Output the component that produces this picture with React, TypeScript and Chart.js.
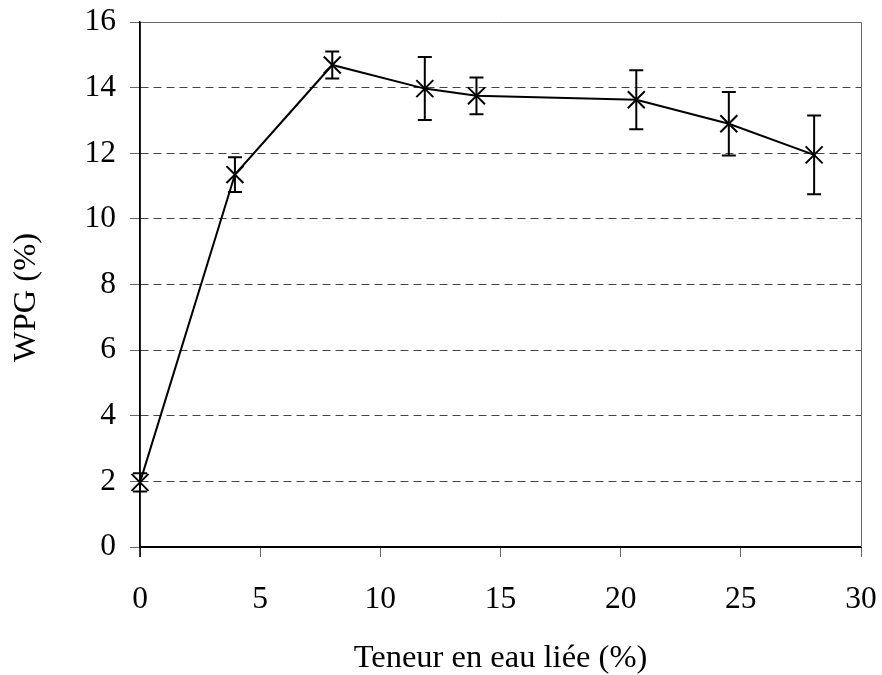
import React, { useEffect, useRef } from "react";
import { Chart, registerables } from "chart.js";

Chart.register(...registerables);

const xValues = [0, 3.95, 8.0, 11.85, 14.0, 20.65, 24.5, 28.05];
const yValues = [1.97, 11.35, 14.69, 13.97, 13.75, 13.63, 12.9, 11.95];
const yErrors = [0.28, 0.53, 0.41, 0.96, 0.56, 0.9, 0.97, 1.2];
const xTitle = "Teneur en eau liée (%)";
const yTitle = "WPG (%)";

const FONT = "'Liberation Serif', 'Times New Roman', serif";

const errorBarPlugin = {
  id: "errorBars",
  afterDatasetsDraw(chart: any) {
    const ctx = chart.ctx;
    const xs = chart.scales.x;
    const ys = chart.scales.y;
    ctx.save();
    ctx.strokeStyle = "#000";
    ctx.lineWidth = 2;
    xValues.forEach((xv, i) => {
      const px = xs.getPixelForValue(xv);
      const top = ys.getPixelForValue(yValues[i] + yErrors[i]);
      const bot = ys.getPixelForValue(yValues[i] - yErrors[i]);
      const cap = 7;
      ctx.beginPath();
      ctx.moveTo(px, top);
      ctx.lineTo(px, bot);
      ctx.moveTo(px - cap, top);
      ctx.lineTo(px + cap, top);
      ctx.moveTo(px - cap, bot);
      ctx.lineTo(px + cap, bot);
      ctx.stroke();
    });
    ctx.restore();
  },
};

const framePlugin = {
  id: "frame",
  afterDraw(chart: any) {
    const { ctx, chartArea } = chart;
    ctx.save();
    ctx.strokeStyle = "#666";
    ctx.lineWidth = 1;
    ctx.setLineDash([]);
    ctx.beginPath();
    ctx.moveTo(chartArea.left, chartArea.top + 0.5);
    ctx.lineTo(chartArea.right + 0.5, chartArea.top + 0.5);
    ctx.lineTo(chartArea.right + 0.5, chartArea.bottom);
    ctx.stroke();
    ctx.strokeStyle = "#000";
    ctx.lineWidth = 1.5;
    ctx.beginPath();
    ctx.moveTo(chartArea.left, chartArea.top);
    ctx.lineTo(chartArea.left, chartArea.bottom + 10);
    ctx.stroke();
    // y axis title, placed slightly below the plot centre as in the reference
    ctx.fillStyle = "#000";
    ctx.font = `32.5px ${FONT}`;
    ctx.textAlign = "center";
    ctx.textBaseline = "middle";
    ctx.translate(26, (chartArea.top + chartArea.bottom) / 2 + 13);
    ctx.rotate(-Math.PI / 2);
    ctx.fillText(yTitle, 0, 0);
    ctx.restore();
  },
};

export default function App() {
  const ref = useRef<HTMLCanvasElement>(null);
  useEffect(() => {
    document.body.style.margin = "0";
    const chart = new Chart(ref.current as HTMLCanvasElement, {
      type: "line",
      data: {
        datasets: [
          {
            data: xValues.map((x, i) => ({ x, y: yValues[i] })),
            borderColor: "#000",
            borderWidth: 2,
            pointStyle: "crossRot",
            pointRadius: 12,
            pointBorderWidth: 2,
            pointBorderColor: "#000",
            pointBackgroundColor: "#000",
            tension: 0,
            clip: false as any,
          },
        ],
      },
      options: {
        responsive: false,
        animation: false,
        layout: { padding: { left: 7, right: 21, top: 22, bottom: 0 } },
        plugins: { legend: { display: false }, tooltip: { enabled: false } },
        scales: {
          x: {
            type: "linear",
            min: 0,
            max: 30,
            ticks: { stepSize: 5, color: "#000", padding: 24, font: { family: FONT, size: 31.5 } },
            grid: { drawOnChartArea: false, drawTicks: true, tickLength: 10, color: "#666" },
            border: { color: "#000", width: 2 },
            title: {
              display: true,
              text: xTitle,
              color: "#000",
              font: { family: FONT, size: 32.5, lineHeight: 1 },
              padding: 0,
            },
            afterFit(scale: any) {
              scale.height = 128;
              scale.paddingLeft = 0;
              scale.paddingRight = 0;
            },
          },
          y: {
            type: "linear",
            min: 0,
            max: 16,
            ticks: { stepSize: 2, color: "#000", padding: 14, font: { family: FONT, size: 31.5 } },
            grid: { color: "#444", tickBorderDash: [], tickLength: 10, tickColor: "#666" } as any,
            border: { color: "#000", width: 1.5, dash: [8, 5] } as any,
            title: { display: false, text: yTitle },
            afterFit(scale: any) {
              scale.width = 133;
              scale.paddingTop = 0;
              scale.paddingBottom = 0;
            },
          },
        },
      },
      plugins: [errorBarPlugin, framePlugin],
    });
    return () => chart.destroy();
  }, []);
  return (
    <div style={{ width: 882, height: 675 }}>
      <canvas ref={ref} width={882} height={675} />
    </div>
  );
}
